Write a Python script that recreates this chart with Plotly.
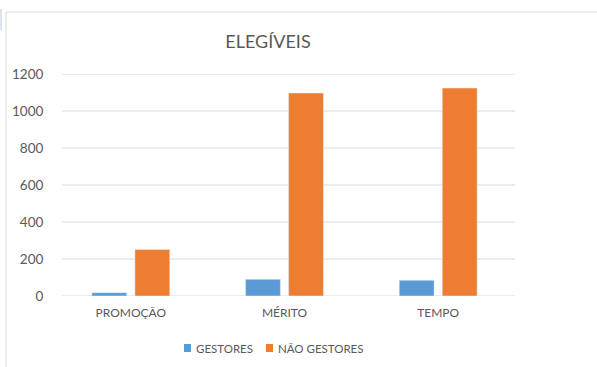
import plotly.graph_objects as go

categories = ["PROMOÇÃO", "MÉRITO", "TEMPO"]
gestores = [18, 90, 85]
nao_gestores = [252, 1097, 1124]
series_names = ["GESTORES", "NÃO GESTORES"]
series_colors = ["#5B9BD5", "#ED7D31"]
y_ticks = [0, 200, 400, 600, 800, 1000, 1200]

W, H = 597, 367
L, R, T, B = 54, 82, 74, 71
FONT = "Lato, Liberation Sans, Arial"
TXT = "#595959"

fig = go.Figure()
fig.add_bar(x=categories, y=gestores, name=series_names[0], marker_color=series_colors[0])
fig.add_bar(x=categories, y=nao_gestores, name=series_names[1], marker_color=series_colors[1])

pw = W - L - R
ph = H - T - B

def px2paper_x(px):
    return (px - L) / pw

def px2paper_y(py):
    return (H - B - py) / ph

# gridlines (start a little right of the plot area, as in the original)
for v in y_ticks:
    fig.add_shape(type="line", xref="paper", yref="y", x0=px2paper_x(62), x1=1, y0=v, y1=v,
                  line=dict(color="#D9D9D9", width=1), layer="below")

# chart frame (left and top border)
fig.add_shape(type="line", xref="paper", yref="paper",
              x0=px2paper_x(6), x1=px2paper_x(W + 5), y0=px2paper_y(12), y1=px2paper_y(12),
              line=dict(color="#D9D9D9", width=1))
fig.add_shape(type="line", xref="paper", yref="paper",
              x0=px2paper_x(6), x1=px2paper_x(6), y0=px2paper_y(12), y1=px2paper_y(H + 5),
              line=dict(color="#D9D9D9", width=1))
fig.add_shape(type="rect", xref="paper", yref="paper",
              x0=px2paper_x(0), x1=px2paper_x(2), y0=px2paper_y(9), y1=px2paper_y(30),
              line=dict(width=0), fillcolor="#DCE3EC")

# legend (custom, compact like the original)
legend_items = [(184, 194), (266, 276)]
for (sq_x, tx_x), name, col in zip(legend_items, series_names, series_colors):
    fig.add_shape(type="rect", xref="paper", yref="paper",
                  x0=px2paper_x(sq_x), x1=px2paper_x(sq_x + 7),
                  y0=px2paper_y(352), y1=px2paper_y(344),
                  line=dict(width=0), fillcolor=col)
    fig.add_annotation(text=name, xref="paper", yref="paper", x=px2paper_x(tx_x), y=px2paper_y(348),
                       xanchor="left", yanchor="middle", showarrow=False,
                       font=dict(size=11.5, color=TXT, family=FONT))

fig.update_layout(
    width=W, height=H,
    margin=dict(l=L, r=R, t=T, b=B, autoexpand=False),
    paper_bgcolor="white", plot_bgcolor="white",
    barmode="group", bargap=0.44, bargroupgap=0.19,
    font=dict(family=FONT, color=TXT, size=12),
    title=dict(text="ELEGÍVEIS", x=268 / W, xanchor="center", y=1 - 42 / H, yanchor="middle",
               font=dict(size=18, color=TXT, family=FONT)),
    showlegend=False,
    xaxis=dict(showgrid=False, showline=False, zeroline=False, ticks="outside", ticklen=6,
               tickcolor="rgba(0,0,0,0)", tickfont=dict(size=12, color=TXT)),
    yaxis=dict(range=[0, 1200], tickvals=y_ticks, showgrid=False,
               zeroline=False, showline=False,
               ticks="outside", ticklen=7, tickcolor="rgba(0,0,0,0)",
               tickfont=dict(size=13.5, color=TXT)),
)

fig.write_html("out.html")
